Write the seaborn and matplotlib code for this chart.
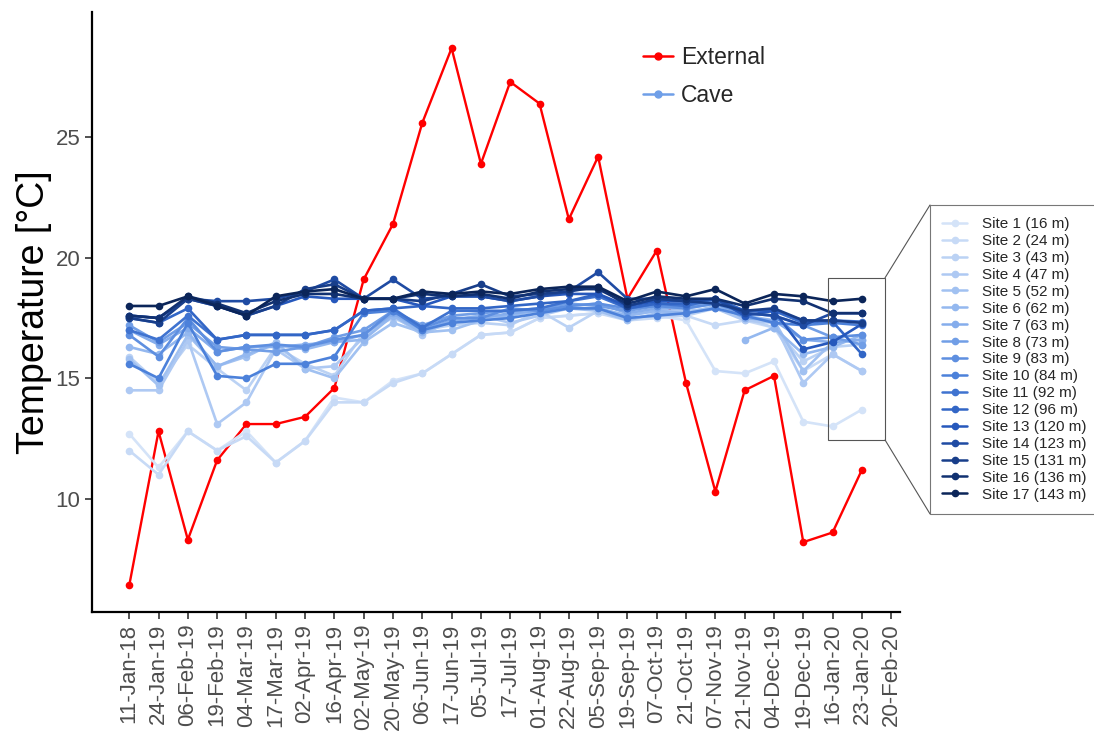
import numpy as np
import pandas as pd
import matplotlib
matplotlib.use("Agg")
import matplotlib.pyplot as plt
import seaborn as sns
from matplotlib.lines import Line2D
from matplotlib.patches import Rectangle
from matplotlib.colors import LinearSegmentedColormap, to_hex

dates = ["11-Jan-18", "24-Jan-19", "06-Feb-19", "19-Feb-19", "04-Mar-19", "17-Mar-19",
         "02-Apr-19", "16-Apr-19", "02-May-19", "20-May-19", "06-Jun-19", "17-Jun-19",
         "05-Jul-19", "17-Jul-19", "01-Aug-19", "22-Aug-19", "05-Sep-19", "19-Sep-19",
         "07-Oct-19", "21-Oct-19", "07-Nov-19", "21-Nov-19", "04-Dec-19", "19-Dec-19",
         "16-Jan-20", "23-Jan-20", "20-Feb-20"]

external = [6.4, 12.8, 8.3, 11.6, 13.1, 13.1, 13.4, 14.6, 19.1, 21.4, 25.6, 28.7, 23.9,
            27.3, 26.4, 21.6, 24.2, 18.3, 20.3, 14.8, 10.3, 14.5, 15.1, 8.2, 8.6, 11.2]

nan = np.nan
site_names = ["Site 1 (16 m)", "Site 2 (24 m)", "Site 3 (43 m)", "Site 4 (47 m)",
              "Site 5 (52 m)", "Site 6 (62 m)", "Site 7 (63 m)", "Site 8 (73 m)",
              "Site 9 (83 m)", "Site 10 (84 m)", "Site 11 (92 m)", "Site 12 (96 m)",
              "Site 13 (120 m)", "Site 14 (123 m)", "Site 15 (131 m)", "Site 16 (136 m)",
              "Site 17 (143 m)"]

site1 = [12.7, 11.3, 12.8, 12.0, 12.8, 11.5, 12.4, 14.2, 14.0, 14.9, 15.2, 16.0, 16.8,
         16.9, 17.5, 17.6, 17.7, 17.5, 17.6, 17.4, 15.3, 15.2, 15.7, 13.2, 13.0, 13.7]
site2 = [12.0, 11.0, 12.8, 12.0, 12.6, 11.5, 12.4, 14.0, 14.0, 14.8, 15.2, 16.0, 16.8,
         16.9, 17.5, 17.6, 17.7, 17.4, 17.5, 17.6, 17.2, 17.4, 17.1, 15.3, 16.0, 15.3]
site3 = [15.9, 14.8, 16.4, 15.4, 14.5, 16.3, 15.6, 15.1, 16.9, 17.5, 17.0, 17.2, 17.3,
         17.2, 17.8, 17.1, 17.8, 17.5, 17.6, 17.6, 17.9, 17.5, 17.1, 15.7, 16.3, 16.4]
site4 = [14.5, 14.5, 16.6, 13.1, 14.0, 16.2, 15.4, 15.5, 16.7, 17.6, 16.8, 17.4, 17.6,
         17.3, 17.6, 17.9, 17.9, 17.6, 17.8, 17.8, 17.9, 17.4, 17.3, 14.8, 16.0, 15.3]
site5 = [15.8, 14.7, 16.8, 15.5, 15.9, 16.5, 15.4, 15.0, 16.5, 17.3, 16.9, 17.0, 17.4,
         17.6, 17.8, 17.9, 17.8, 17.4, 17.7, 17.7, 18.0, 17.6, 17.4, 15.3, 16.5, 16.6]
site6 = [16.3, 16.0, 16.9, 15.5, 16.0, 16.4, 16.2, 16.5, 16.6, 17.6, 16.9, 17.4, 17.6,
         17.6, 17.9, 17.9, 17.9, 17.6, 17.8, 17.7, nan, 16.6, 17.1, 16.0, 16.3, 16.8]
site7 = [17.0, 16.4, 17.1, 16.1, 16.3, 16.3, 16.4, 16.5, 16.8, 17.7, 17.0, 17.4, 17.5,
         17.7, 17.8, 18.0, 18.1, 17.7, 17.9, 17.9, 18.1, 17.5, 17.4, 16.6, 16.5, 16.6]
site8 = [17.2, 16.5, 17.3, 16.3, 16.2, 16.1, 16.3, 16.7, 17.0, 17.8, 17.2, 17.6, 17.7,
         17.8, 17.9, 18.1, 18.0, 17.8, 18.0, 18.0, 18.2, 17.7, 17.6, 17.2, 16.7, 16.4]
site9 = [16.8, 15.9, 17.5, 16.1, 16.3, 16.4, 16.3, 16.6, 16.8, 17.8, 17.1, 17.5, 17.5,
         17.9, 17.8, 18.0, 18.1, 17.9, 18.0, 17.9, 18.1, 17.7, 17.6, 16.6, 16.7, 16.8]
site10 = [15.6, 15.0, 17.3, 15.1, 15.0, 15.6, 15.6, 15.9, 17.7, 17.8, 17.0, 17.3, 17.4,
          17.5, 17.7, 17.9, 17.9, 17.5, 17.6, 17.7, 17.9, 17.6, 17.3, 17.2, 17.3, 17.2]
site11 = [17.0, 16.6, 17.6, 16.6, 16.8, 16.8, 16.8, 17.0, 17.8, 17.9, 17.1, 17.8, 17.8,
          17.8, 17.9, 18.2, 18.4, 17.9, 18.1, 18.0, 18.3, 17.8, 17.8, 17.3, 17.4, 17.35]
site12 = [17.5, 17.3, 17.9, 16.6, 16.8, 16.8, 16.8, 17.0, 17.8, 17.9, 18.0, 17.9, 17.9,
          18.0, 18.1, 18.2, 18.5, 17.9, 18.1, 18.1, 18.3, 17.8, 17.8, 17.4, 17.35, 16.0]
site13 = [17.6, 17.5, 18.3, 18.0, 17.6, 18.0, 18.4, 18.3, 18.3, 18.3, 18.0, 18.4, 18.4,
          18.2, 18.4, 18.5, 18.5, 18.0, 18.2, 18.2, 18.3, 17.6, 17.8, 16.2, 16.5, 17.25]
site14 = [17.6, 17.5, 18.3, 18.2, 18.2, 18.3, 18.6, 19.1, 18.3, 19.1, 18.3, 18.4, 18.4,
          18.2, 18.4, 18.6, 19.4, 18.3, 18.3, 18.2, 18.3, 17.7, 17.6, 17.2, 17.7, 17.7]
site15 = [17.5, 17.3, 18.3, 18.0, 17.6, 18.0, 18.7, 18.9, 18.3, 18.3, 18.2, 18.5, 18.9,
          18.4, 18.5, 18.6, 18.8, 18.0, 18.3, 18.2, 18.1, 17.8, 17.9, 17.4, 17.4, 17.3]
site16 = [17.6, 17.5, 18.4, 18.1, 17.7, 18.2, 18.5, 18.5, 18.3, 18.3, 18.5, 18.4, 18.5,
          18.3, 18.6, 18.7, 18.7, 18.1, 18.4, 18.3, 18.3, 18.0, 18.3, 18.2, 17.7, 17.7]
site17 = [18.0, 18.0, 18.4, 18.0, 17.6, 18.4, 18.6, 18.7, 18.3, 18.3, 18.6, 18.5, 18.6,
          18.5, 18.7, 18.8, 18.8, 18.2, 18.6, 18.4, 18.7, 18.1, 18.5, 18.4, 18.2, 18.3]

sites = [site1, site2, site3, site4, site5, site6, site7, site8, site9, site10, site11,
         site12, site13, site14, site15, site16, site17]

# ---- build long-form data ----
rows = []
for name, vals in zip(site_names, sites):
    seg = 0
    for i, v in enumerate(vals):
        if np.isnan(v):
            seg += 1
            continue
        rows.append({"idx": i, "temp": v, "site": name, "unit": f"{name}_{seg}"})
cave_df = pd.DataFrame(rows)
ext_df = pd.DataFrame({"idx": np.arange(len(external)), "temp": external})

cmap = LinearSegmentedColormap.from_list(
    "cave", [(0.0, "#d4e3f8"), (0.35, "#8db3ee"), (0.55, "#4f84dc"),
             (0.75, "#2659bd"), (1.0, "#0b2559")])
palette = {name: to_hex(cmap(i / 16)) for i, name in enumerate(site_names)}

sns.set_theme(style="ticks")
plt.rcParams["font.family"] = ["Liberation Sans", "DejaVu Sans"]

fig = plt.figure(figsize=(10.94, 7.45), dpi=100)
ax = fig.add_axes([92 / 1094, 1 - 612 / 745, (900 - 92) / 1094, 600 / 745])

sns.lineplot(data=ext_df, x="idx", y="temp", color="#ff0000", marker="o",
             markersize=5.5, markeredgewidth=0, linewidth=1.7, ax=ax, zorder=2)
sns.lineplot(data=cave_df, x="idx", y="temp", hue="site", units="unit",
             estimator=None, palette=palette, hue_order=site_names, marker="o",
             markersize=5.5, markeredgewidth=0, linewidth=1.9, ax=ax,
             legend=False, zorder=3)

ax.set_xlim(-1.27, 26.3)
ax.set_ylim(5.3, 30.2)
ax.set_xticks(np.arange(len(dates)))
ax.set_xticklabels(dates, rotation=90, fontsize=16, color="#4d4d4d")
ax.set_yticks([10, 15, 20, 25])
ax.set_yticklabels(["10", "15", "20", "25"], fontsize=16, color="#4d4d4d")
ax.set_xlabel("")
ax.set_ylabel("Temperature [°C]", fontsize=27, color="black")
ax.yaxis.set_label_coords(-0.05, 0.5)
for s in ["top", "right"]:
    ax.spines[s].set_visible(False)
for s in ["left", "bottom"]:
    ax.spines[s].set_linewidth(1.6)
    ax.spines[s].set_color("black")
ax.tick_params(axis="both", length=5, width=1.2, color="#333333")
ax.grid(False)

# top legend (External / Cave)
h1 = [Line2D([0], [0], color="#ff0000", marker="o", markersize=5, lw=1.8),
      Line2D([0], [0], color="#6f9fe8", marker="o", markersize=5, lw=1.8)]
leg1 = fig.legend(h1, ["External", "Cave"], loc="upper left",
                  bbox_to_anchor=(643 / 1094, 1 - 46 / 745), frameon=False,
                  fontsize=16.5, handlelength=1.3, handletextpad=0.35,
                  labelspacing=0.65, borderpad=0, borderaxespad=0)

# site legend
h2 = [Line2D([0], [0], color=palette[n], marker="o", markersize=4.5, lw=1.8)
      for n in site_names]
leg2 = fig.legend(h2, site_names, loc="upper left",
                  bbox_to_anchor=(930 / 1094, 1 - 205 / 745), frameon=True,
                  fontsize=11, handlelength=1.65, handletextpad=0.95,
                  labelspacing=0.19, borderpad=0.8, borderaxespad=0,
                  fancybox=False)
leg2.get_frame().set_edgecolor("#555555")
leg2.get_frame().set_linewidth(0.8)

# zoom rectangle
rx0, rx1, ry0, ry1 = 23.85, 25.79, 12.44, 19.17
ax.add_patch(Rectangle((rx0, ry0), rx1 - rx0, ry1 - ry0, fill=False,
                       edgecolor="#555555", lw=0.8, zorder=5))

fig.canvas.draw()
bb = leg2.get_window_extent()
inv = fig.transFigure.inverted()
p_top = inv.transform(ax.transData.transform((rx1, ry1)))
p_bot = inv.transform(ax.transData.transform((rx1, ry0)))
l_top = inv.transform((bb.x0, bb.y1))
l_bot = inv.transform((bb.x0, bb.y0))
fig.add_artist(Line2D([p_top[0], l_top[0]], [p_top[1], l_top[1]],
                      transform=fig.transFigure, color="#555555", lw=0.8))
fig.add_artist(Line2D([p_bot[0], l_bot[0]], [p_bot[1], l_bot[1]],
                      transform=fig.transFigure, color="#555555", lw=0.8))

fig.savefig("out.png", dpi=100)
